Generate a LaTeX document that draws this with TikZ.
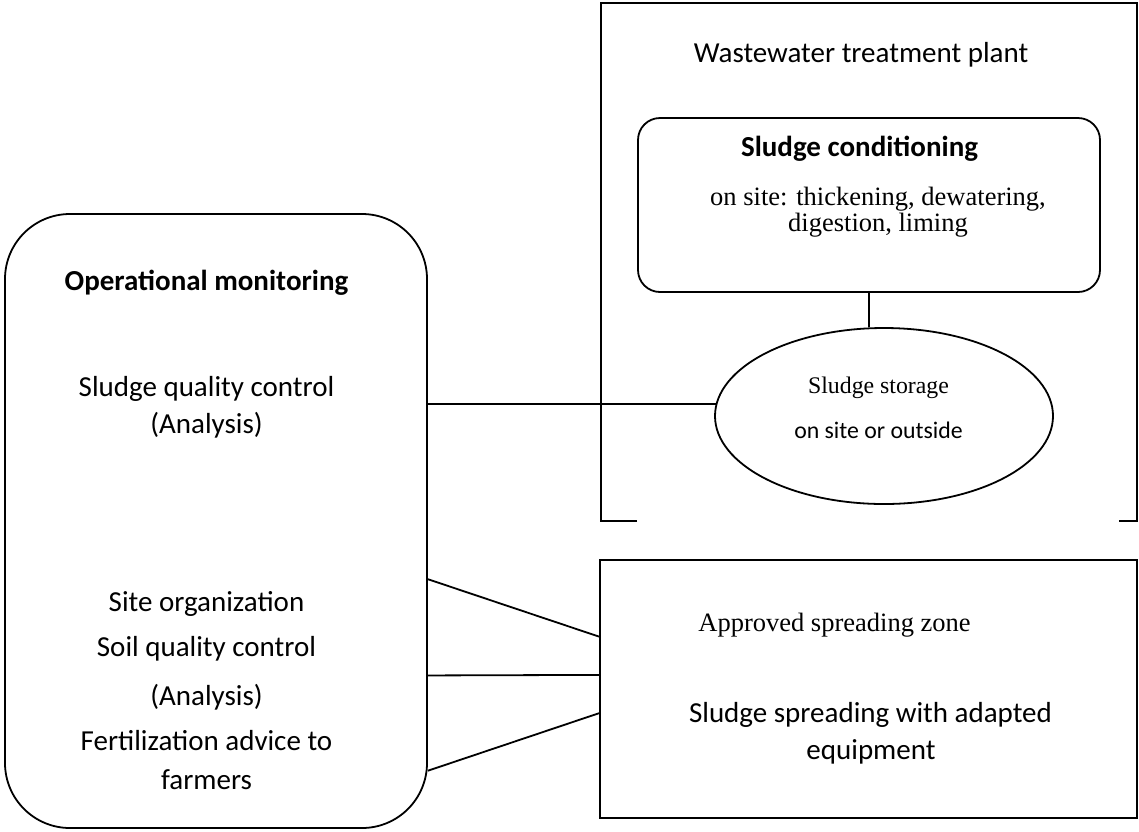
\documentclass[tikz,border=0pt]{standalone}
\usepackage{fontspec}
\setmainfont{Liberation Serif}
\setsansfont{Carlito}
\usetikzlibrary{shapes.geometric,calc}

\begin{document}
\begin{tikzpicture}[x=1pt, y=-1pt, line width=1.8pt,
    lbl/.style={inner sep=0pt, anchor=base},
    sans/.style={lbl, font=\sffamily\fontsize{29}{35}\selectfont},
    bsans/.style={lbl, font=\sffamily\bfseries\fontsize{29}{35}\selectfont},
    serif/.style={lbl, font=\rmfamily\fontsize{26.5}{32}\selectfont},
    rmsmall/.style={lbl, font=\rmfamily\fontsize{23.8}{28}\selectfont},
    sfsmall/.style={lbl, font=\sffamily\fontsize{23.8}{28}\selectfont}]
    \useasboundingbox (0,0) rectangle (1139,831);
    % boxes, coordinates in pixels of the page
    \node[draw, rounded corners=65pt, minimum width=422pt, minimum height=614pt, inner sep=0pt] (mon) at (216,521) {};
    \node[draw, rounded corners=22pt, minimum width=462pt, minimum height=174pt, inner sep=0pt] (cond) at (869,205) {};
    \node[draw, ellipse, minimum width=338pt, minimum height=176pt, inner sep=0pt] (store) at (884,416) {};
    \node[draw, minimum width=537pt, minimum height=258pt, inner sep=0pt] (zone) at (868.5,689) {};
    % plant frame, open at the bottom
    \draw (637,521) -- (601,521) -- (601,3) -- (1137,3) -- (1137,521) -- (1119,521);
    % connectors
    \draw (cond.south) -- (cond.south |- store.north);
    \draw (mon.east |- store.176.6) -- (store.176.6);
    \foreach \a/\b in {0.5945/0.2984, 0.7508/0.4457, 0.9055/0.593} {
        \draw ($(mon.north east)!\a!(mon.south east)$) -- ($(zone.north west)!\b!(zone.south west)$);
    }
    % texts of the monitoring box
    \node[bsans] (t-mon) at (206.5,290) {Operational monitoring};
    \node[sans] (t-sq) at (206.5,396) {Sludge quality control};
    \node[sans] (t-sqa) at (206.5,433) {(Analysis)};
    \node[sans] (t-site) at (206.5,611) {Site organization};
    \node[sans] (t-soil) at (206.5,656) {Soil quality control};
    \node[sans] (t-soila) at (206.5,705) {(Analysis)};
    \node[sans] (t-fert) at (206.5,750) {Fertilization advice to};
    \node[sans] (t-farm) at (206.5,789) {farmers};
    % texts of the plant
    \node[sans] (t-plant) at (861,62) {Wastewater treatment plant};
    \node[bsans] (t-cond) at (859.5,156) {Sludge conditioning};
    \node[serif] (t-cond1) at (878,205) {on site: thickening, dewatering,};
    \node[serif] (t-cond2) at (878,231) {digestion, liming};
    \node[rmsmall] (t-store) at (878.5,393) {Sludge storage};
    \node[sfsmall] (t-store2) at (878.5,438) {on site or outside};
    % texts of the spreading zone
    \node[serif] (t-zone) at (834.5,631) {Approved spreading zone};
    \node[sans] (t-spread) at (870.5,722) {Sludge spreading with adapted};
    \node[sans] (t-spread2) at (871,759) {equipment};
\end{tikzpicture}
\end{document}
